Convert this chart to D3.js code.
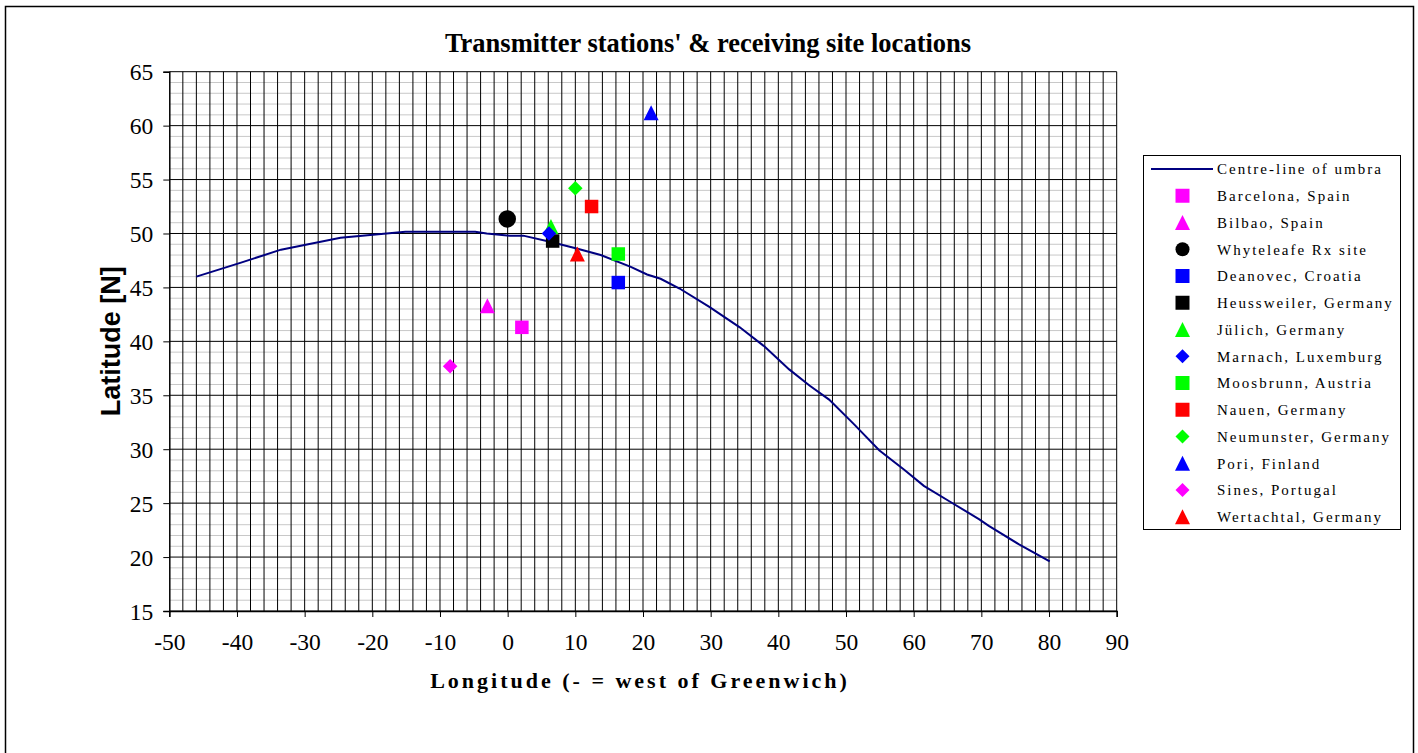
<!DOCTYPE html>
<html>
<head>
<meta charset="utf-8">
<script src="https://cdn.jsdelivr.net/npm/d3@7"></script>
<style>
body { margin: 0; background: #fff; }
svg text { fill: #000; }
</style>
</head>
<body>
<div id="chart"></div>
<script>
// centre-line of umbra
var umbraLon = [-46, -39.4, -33.5, -24.7, -15.1, -4.8, -3.1, 0.3, 2.3, 6.25, 10.2, 13.75, 18.2, 20.6, 22.6, 25.4, 29.8, 34.3, 38, 41.6, 44.6, 47.5, 51.2, 54.9, 58.6, 61.5, 65.2, 69.7, 71.1, 75.5, 80.1];
var umbraLat = [46.0, 47.3, 48.5, 49.6, 50.17, 50.17, 50.0, 49.8, 49.8, 49.24, 48.6, 48.0, 46.9, 46.2, 45.8, 44.9, 43.2, 41.3, 39.5, 37.4, 35.9, 34.6, 32.3, 29.9, 28.1, 26.6, 25.2, 23.5, 22.9, 21.2, 19.6];

// sites
var siteNames = ["Barcelona, Spain", "Bilbao, Spain", "Whyteleafe Rx site", "Deanovec, Croatia", "Heussweiler, Germany", "Jülich, Germany", "Marnach, Luxemburg", "Moosbrunn, Austria", "Nauen, Germany", "Neumunster, Germany", "Pori, Finland", "Sines, Portugal", "Wertachtal, Germany"];
var siteLon = [2.1, -3.0, -0.06, 16.35, 6.65, 6.4, 6.1, 16.35, 12.4, 10.0, 21.2, -8.5, 10.3];
var siteLat = [41.3, 43.3, 51.35, 45.45, 49.3, 50.65, 50.0, 48.1, 52.5, 54.2, 61.2, 37.7, 48.1];
var siteShape = ["square", "triangle", "circle", "square", "square", "triangle", "diamond", "square", "square", "diamond", "triangle", "diamond", "triangle"];
var siteColor = ["#ff00ff", "#ff00ff", "#000000", "#0000ff", "#000000", "#00ff00", "#0000ff", "#00ff00", "#ff0000", "#00ff00", "#0000ff", "#ff00ff", "#ff0000"];

var xTicks = [-50, -40, -30, -20, -10, 0, 10, 20, 30, 40, 50, 60, 70, 80, 90];
var yTicks = [15, 20, 25, 30, 35, 40, 45, 50, 55, 60, 65];

var W = 1418, H = 753;
var plotLeft = 169.3, plotRight = 1116.7, plotTop = 71.7, plotBottom = 611;

var svg = d3.select("#chart").append("svg")
    .attr("width", W)
    .attr("height", H);

svg.append("rect")
    .attr("x", 5.5).attr("y", 6.5)
    .attr("width", 1408).attr("height", 760)
    .attr("fill", "#fff")
    .attr("stroke", "#000")
    .attr("stroke-width", 1.5);

var x = d3.scaleLinear().domain([-50, 90]).range([plotLeft, plotRight]);
var y = d3.scaleLinear().domain([15, 65]).range([plotBottom, plotTop]);

var grid = svg.append("g");

// minor horizontal lines every 1 degree
grid.selectAll(".hminor")
    .data(d3.range(16, 65).filter(function (d) { return d % 5 != 0; }))
    .enter().append("line")
    .attr("x1", plotLeft).attr("x2", plotRight)
    .attr("y1", function (d) { return y(d); })
    .attr("y2", function (d) { return y(d); })
    .attr("stroke", "#c8c8c8")
    .attr("stroke-width", 1);

// vertical lines every 2 degrees
grid.selectAll(".vline")
    .data(d3.range(-48, 91, 2))
    .enter().append("line")
    .attr("y1", plotTop).attr("y2", plotBottom)
    .attr("x1", function (d) { return x(d); })
    .attr("x2", function (d) { return x(d); })
    .attr("stroke", "#000")
    .attr("stroke-width", 1);

// major horizontal lines every 5 degrees
grid.selectAll(".hmajor")
    .data(yTicks)
    .enter().append("line")
    .attr("x1", plotLeft).attr("x2", plotRight)
    .attr("y1", function (d) { return y(d); })
    .attr("y2", function (d) { return y(d); })
    .attr("stroke", "#000")
    .attr("stroke-width", 1);

// axes
var fmt = function (d) { return String(d); };
var xAxis = d3.axisBottom(x).tickValues(xTicks).tickSize(6).tickFormat(fmt);
var yAxis = d3.axisLeft(y).tickValues(yTicks).tickSize(6).tickFormat(fmt);

var gx = svg.append("g").attr("transform", "translate(0," + plotBottom + ")").call(xAxis);
var gy = svg.append("g").attr("transform", "translate(" + plotLeft + ",0)").call(yAxis);

[gx, gy].forEach(function (g) {
    g.select(".domain").attr("stroke", "#000").attr("stroke-width", 1.5);
    g.selectAll(".tick line").attr("stroke", "#000");
    g.selectAll("text")
        .attr("font-family", "'Liberation Serif', 'Times New Roman', serif")
        .attr("font-size", 23.5)
        .attr("fill", "#000");
});
gx.selectAll("text").attr("y", 22).attr("dy", "0.71em");
gy.selectAll("text").attr("x", -16).attr("dy", "0.34em");

// umbra line
var line = d3.line()
    .x(function (d) { return x(d[0]); })
    .y(function (d) { return y(d[1]); });

svg.append("path")
    .datum(d3.zip(umbraLon, umbraLat))
    .attr("d", line)
    .attr("fill", "none")
    .attr("stroke", "#000080")
    .attr("stroke-width", 2);

function shapePath(shape, s) {
    var h = s / 2;
    if (shape == "square")
        return "M" + (-h) + "," + (-h) + "H" + h + "V" + h + "H" + (-h) + "Z";
    if (shape == "diamond")
        return "M0," + (-h) + "L" + h + ",0L0," + h + "L" + (-h) + ",0Z";
    if (shape == "triangle")
        return "M0," + (-h) + "L" + h + "," + h + "L" + (-h) + "," + h + "Z";
    return "M" + h + ",0A" + h + "," + h + " 0 1,1 " + (-h) + ",0A" + h + "," + h + " 0 1,1 " + h + ",0Z";
}

var markSize = { square: 13.5, diamond: 14.5, triangle: 15, circle: 17.5 };

svg.append("g").selectAll("path")
    .data(siteNames)
    .enter().append("path")
    .attr("transform", function (d, i) { return "translate(" + x(siteLon[i]) + "," + y(siteLat[i]) + ")"; })
    .attr("d", function (d, i) { return shapePath(siteShape[i], markSize[siteShape[i]]); })
    .attr("fill", function (d, i) { return siteColor[i]; });

// title and axis labels
svg.append("text")
    .attr("x", 708).attr("y", 52)
    .attr("text-anchor", "middle")
    .attr("font-family", "'Liberation Serif', 'Times New Roman', serif")
    .attr("font-weight", "bold")
    .attr("font-size", 26.5)
    .text("Transmitter stations' & receiving site locations");

svg.append("text")
    .attr("x", 640).attr("y", 688)
    .attr("text-anchor", "middle")
    .attr("font-family", "'Liberation Serif', 'Times New Roman', serif")
    .attr("font-weight", "bold")
    .attr("font-size", 22)
    .attr("letter-spacing", 3)
    .text("Longitude (- = west of Greenwich)");

svg.append("text")
    .attr("transform", "translate(120," + ((plotTop + plotBottom) / 2) + ") rotate(-90)")
    .attr("text-anchor", "middle")
    .attr("font-family", "'Liberation Sans', Arial, sans-serif")
    .attr("font-weight", "bold")
    .attr("font-size", 27)
    .text("Latitude [N]");

// legend
var lg = svg.append("g");
lg.append("rect")
    .attr("x", 1143.5).attr("y", 155.5)
    .attr("width", 257).attr("height", 374)
    .attr("fill", "#fff")
    .attr("stroke", "#000")
    .attr("stroke-width", 1);

var rowY = function (i) { return 169 + i * 26.75; };
var legendFont = "'Liberation Serif', 'Times New Roman', serif";

lg.append("line")
    .attr("x1", 1151).attr("x2", 1213)
    .attr("y1", rowY(0)).attr("y2", rowY(0))
    .attr("stroke", "#000080").attr("stroke-width", 2);
lg.append("text")
    .attr("x", 1217).attr("y", rowY(0))
    .attr("dy", "0.35em")
    .attr("font-family", legendFont)
    .attr("font-size", 15)
    .attr("letter-spacing", 2)
    .text("Centre-line of umbra");

var legendMark = { square: 14, diamond: 14, triangle: 15, circle: 14 };

var rows = lg.selectAll(".row")
    .data(siteNames)
    .enter().append("g")
    .attr("transform", function (d, i) { return "translate(0," + rowY(i + 1) + ")"; });

rows.append("path")
    .attr("transform", "translate(1182.5,0)")
    .attr("d", function (d, i) { return shapePath(siteShape[i], legendMark[siteShape[i]]); })
    .attr("fill", function (d, i) { return siteColor[i]; });

rows.append("text")
    .attr("x", 1217)
    .attr("dy", "0.35em")
    .attr("font-family", legendFont)
    .attr("font-size", 15)
    .attr("letter-spacing", 2)
    .text(function (d) { return d; });
</script>
</body>
</html>
